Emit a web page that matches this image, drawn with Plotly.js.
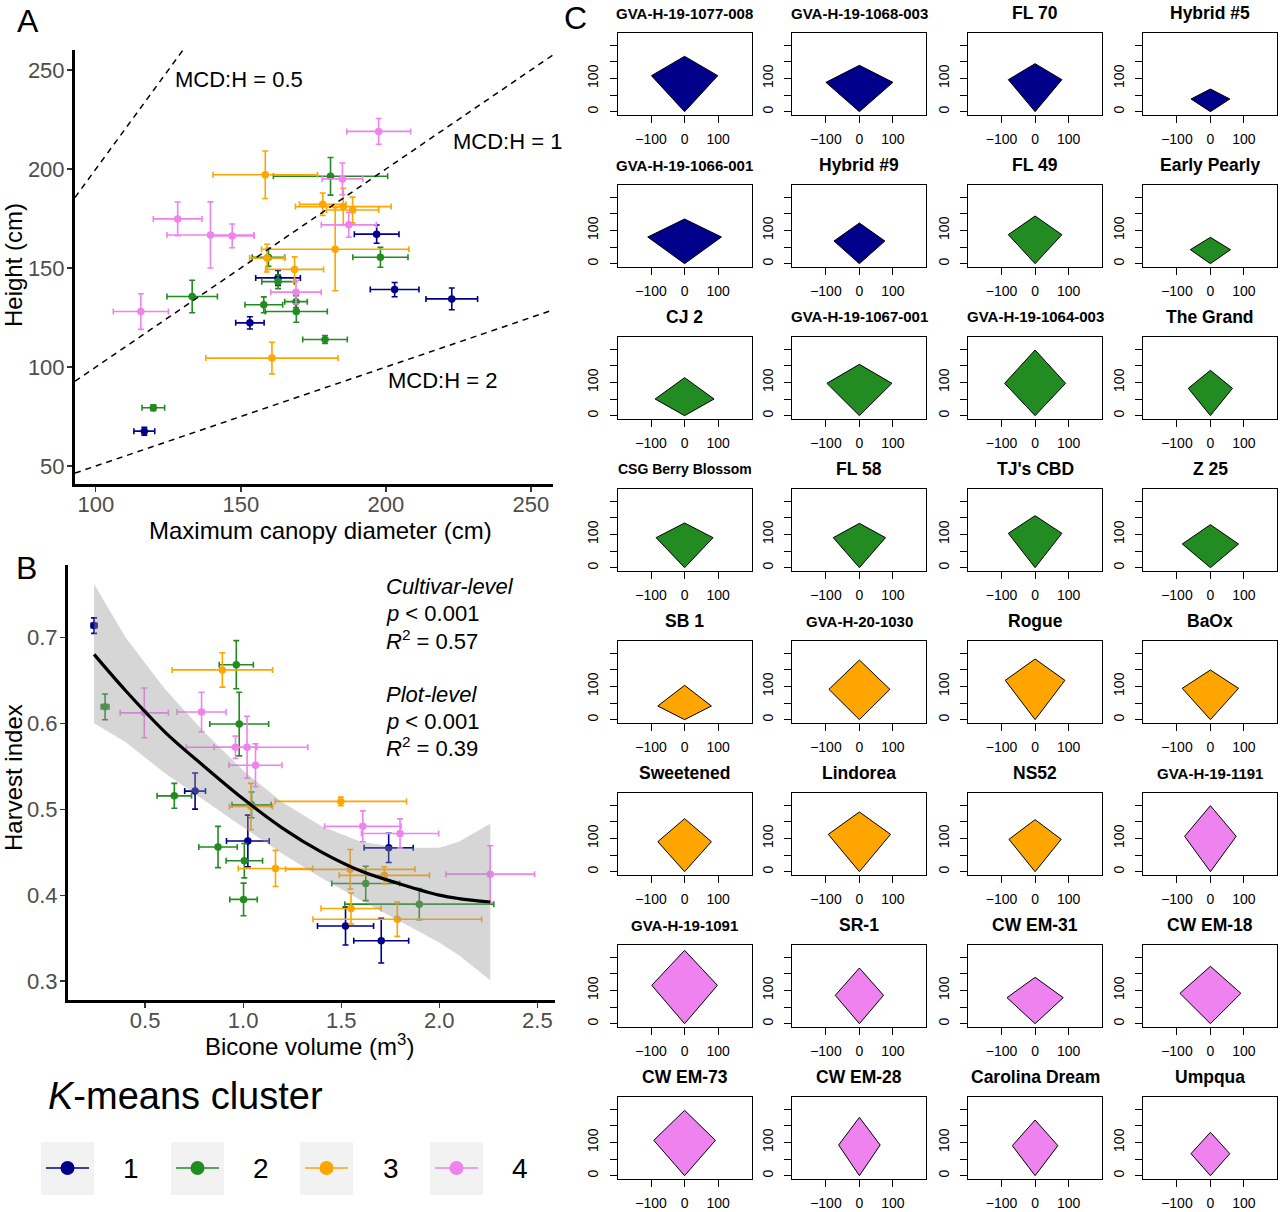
<!DOCTYPE html>
<html><head><meta charset="utf-8">
<script src="https://cdn.plot.ly/plotly-3.0.1.min.js"></script>
<style>html,body{margin:0;padding:0;background:#fff}</style>
</head><body><div id="chart" style="width:1280px;height:1212px"></div>
<script>
// ---------- shared ----------
const clusterColors = ['#00008B', '#228B22', '#FFA500', '#EE82EE'];
const clusterLabels = ['1', '2', '3', '4'];

// ---------- Panel A: canopy diameter vs height ----------
const aCluster   = [1,1,1,1,1,1, 2,2,2,2,2,2,2,2,2,2, 3,3,3,3,3,3,3,3, 4,4,4,4,4,4,4,4];
const aMCD       = [196.8,162.8,203.0,222.7,153.1,116.7, 180.9,198.1,159.5,162.8,169.0,133.2,157.9,169.1,179.0,119.8, 158.4,178.2,185.3,188.5,182.5,159.0,168.5,160.7, 197.5,185.0,128.2,139.5,147.0,187.2,169.0,115.5];
const aHeight    = [167.1,145.0,139.1,134.4,122.3,67.6, 196.3,155.4,155.4,143.1,133.0,135.6,131.4,128.0,113.9,79.4, 197.1,182.2,181.0,179.3,159.5,155.0,149.3,104.5, 219.0,195.0,174.8,166.7,166.2,171.8,137.8,128.0];
const aMCDerr    = [7.7,7.7,8.4,8.9,4.9,3.6, 19.7,9.5,5.6,5.6,3.9,8.7,6.5,10.7,7.7,3.9, 18.0,8.0,16.5,9.0,25.4,6.0,10.0,22.8, 11.0,7.0,8.4,15.0,7.6,9.5,8.7,9.5];
const aHeightErr = [4.6,3.8,3.6,5.5,3.1,2.0, 9.5,5.0,4.6,3.5,3.0,8.2,4.0,5.4,2.0,1.5, 12.0,5.7,9.3,6.5,21.0,7.0,6.3,8.0, 6.5,8.0,8.5,16.7,6.0,6.3,6.0,9.0];
const ratioValues = [0.5, 1, 2];
const ratioLabels = ['MCD:H = 0.5', 'MCD:H = 1', 'MCD:H = 2'];
const ratioLabelX = [126.6, 222.5, 200.0];
const ratioLabelY = [245.0, 214.1, 93.4];
const aXRange = [92.8, 257.6];
const aYRange = [40.9, 260.1];

// ---------- Panel B: bicone volume vs harvest index ----------
const bCluster  = [1,1,1,1,1,1, 2,2,2,2,2,2,2,2,2,2, 3,3,3,3,3,3,3,3, 4,4,4,4,4,4,4,4];
const bVolume   = [0.24,0.755,1.742,1.024,1.522,1.704, 0.296,0.965,0.98,0.649,1.043,0.872,1.006,1.625,1.002,1.898, 0.894,1.498,1.04,1.165,1.546,1.72,1.55,1.786, 0.496,0.788,0.961,1.02,1.063,1.61,1.80,2.26];
const bHI       = [0.7135,0.521,0.455,0.463,0.364,0.347, 0.619,0.668,0.599,0.5155,0.505,0.456,0.44,0.4136,0.395,0.3895, 0.662,0.509,0.503,0.431,0.43,0.423,0.3845,0.372, 0.612,0.613,0.572,0.572,0.551,0.48,0.4717,0.4244];
const bVolErr   = [0.015,0.053,0.125,0.109,0.143,0.14, 0.02,0.087,0.15,0.088,0.10,0.098,0.093,0.173,0.07,0.38, 0.256,0.335,0.11,0.19,0.33,0.23,0.153,0.43, 0.123,0.125,0.109,0.31,0.135,0.195,0.197,0.226];
const bHIErr    = [0.009,0.021,0.017,0.03,0.022,0.026, 0.015,0.028,0.037,0.0145,0.015,0.024,0.02,0.02,0.019,0.018, 0.02,0.005,0.027,0.021,0.023,0.01,0.018,0.02, 0.029,0.023,0.013,0.036,0.025,0.018,0.017,0.033];
const fitX      = [0.24, 0.4, 0.6, 0.8, 1.0, 1.2, 1.4, 1.6, 1.8, 2.0, 2.1, 2.26];
const fitY      = [0.680, 0.638, 0.590, 0.550, 0.512, 0.478, 0.450, 0.428, 0.413, 0.400, 0.396, 0.392];
const fitUpper  = [0.762, 0.700, 0.640, 0.590, 0.545, 0.508, 0.480, 0.462, 0.455, 0.455, 0.462, 0.483];
const fitLower  = [0.600, 0.578, 0.542, 0.510, 0.479, 0.448, 0.420, 0.394, 0.370, 0.345, 0.330, 0.301];
const bStatsLines = ['<i>Cultivar-level</i>', '<i>p</i> &lt; 0.001', '<i>R</i><sup>2</sup> = 0.57',
                     '<i>Plot-level</i>', '<i>p</i> &lt; 0.001', '<i>R</i><sup>2</sup> = 0.39'];

// ---------- Panel C: bicone profiles ----------
const cNames = ['GVA-H-19-1077-008','GVA-H-19-1068-003','FL 70','Hybrid #5',
                'GVA-H-19-1066-001','Hybrid #9','FL 49','Early Pearly',
                'CJ 2','GVA-H-19-1067-001','GVA-H-19-1064-003','The Grand',
                'CSG Berry Blossom','FL 58',"TJ's CBD",'Z 25',
                'SB 1','GVA-H-20-1030','Rogue','BaOx',
                'Sweetened','Lindorea','NS52','GVA-H-19-1191',
                'GVA-H-19-1091','SR-1','CW EM-31','CW EM-18',
                'CW EM-73','CW EM-28','Carolina Dream','Umpqua'];
const cCluster   = [1,1,1,1, 1,1,2,2, 2,2,2,2, 2,2,2,2, 3,3,3,3, 3,3,3,4, 4,4,4,4, 4,4,4,4];
const cHalfWidth = [99,100,80,58, 110,76,80,60, 88,97,91,66, 85,78,80,84, 80,91,89,84, 80,93,78,77, 98,72,84,91, 92,62,68,58];
const cWidestAt  = [108,88,96,38, 80,68,87,42, 50,97,97,82, 90,90,103,71, 41,91,118,94, 90,112,97,106, 115,85,78,91, 106,92,90,66];
const cHeight    = [166,139,144,68, 134,122,143,79, 114,154,197,136, 134,133,156,129, 103,179,182,149, 159,179,156,198, 220,167,139,172, 196,175,167,130];
const cXTicks = [-100, 0, 100];
const cYLabelTicks = [0, 100];
const cYMinorTicks = [50, 150, 200];

// ---------- layout helpers (pixel -> paper) ----------
const W = 1280, H = 1212;
const px = x => x / W;
const py = y => 1 - y / H;
const FONT = 'Liberation Sans, Arial, Helvetica, sans-serif';

const traces = [];
const annotations = [];
const shapes = [];
const layout = {
  width: W, height: H,
  margin: {l: 0, r: 0, t: 0, b: 0},
  paper_bgcolor: '#ffffff', plot_bgcolor: 'rgba(0,0,0,0)',
  showlegend: false,
  font: {family: FONT, color: '#000'},
};

function pick(arr, clusterArr, c) { return arr.filter((_, i) => clusterArr[i] === c); }
function axisTitle(text, x, y, angle) {
  annotations.push({xref: 'paper', yref: 'paper', x: px(x), y: py(y), text: text, showarrow: false,
    xanchor: 'center', yanchor: 'middle', textangle: angle, font: {size: 24, color: '#000'}});
}

// ---------- Panel A traces ----------
for (let c = 1; c <= 4; c++) {
  const col = clusterColors[c - 1];
  traces.push({
    type: 'scatter', mode: 'markers', xaxis: 'x', yaxis: 'y',
    x: pick(aMCD, aCluster, c), y: pick(aHeight, aCluster, c),
    marker: {color: col, size: 7.5},
    error_x: {type: 'data', array: pick(aMCDerr, aCluster, c), color: col, thickness: 1.6, width: 3},
    error_y: {type: 'data', array: pick(aHeightErr, aCluster, c), color: col, thickness: 1.6, width: 3},
    name: 'Cluster ' + clusterLabels[c - 1]
  });
}
ratioValues.forEach((r, i) => {
  traces.push({
    type: 'scatter', mode: 'lines', xaxis: 'x', yaxis: 'y',
    x: aXRange, y: aXRange.map(v => v / r),
    line: {color: '#000', width: 1.5, dash: '6px,5px'}, hoverinfo: 'skip', cliponaxis: true
  });
  annotations.push({xref: 'x', yref: 'y', x: ratioLabelX[i], y: ratioLabelY[i], text: ratioLabels[i],
    showarrow: false, xanchor: 'left', yanchor: 'middle', font: {size: 22, color: '#000'}});
});

const axisCommon = {
  showgrid: false, zeroline: false, showline: true, linecolor: '#000', linewidth: 3,
  ticks: 'outside', ticklen: 5, tickwidth: 1.2, tickcolor: '#333',
  tickfont: {size: 22, color: '#4D4D4D'}
};
layout.xaxis = Object.assign({}, axisCommon, {
  domain: [px(75), px(553)], anchor: 'y', range: aXRange,
  tickvals: [100, 150, 200, 250], ticklabelstandoff: -6
});
layout.yaxis = Object.assign({}, axisCommon, {
  domain: [py(484), py(50)], anchor: 'x', range: aYRange,
  tickvals: [50, 100, 150, 200, 250], ticklabelstandoff: -2
});
axisTitle('Maximum canopy diameter (cm)', 320, 531, 0);
axisTitle('Height (cm)', 13, 265, -90);

// ---------- Panel B traces ----------
for (let c = 1; c <= 4; c++) {
  const col = clusterColors[c - 1];
  traces.push({
    type: 'scatter', mode: 'markers', xaxis: 'x2', yaxis: 'y2',
    x: pick(bVolume, bCluster, c), y: pick(bHI, bCluster, c),
    marker: {color: col, size: 7.5},
    error_x: {type: 'data', array: pick(bVolErr, bCluster, c), color: col, thickness: 1.6, width: 3},
    error_y: {type: 'data', array: pick(bHIErr, bCluster, c), color: col, thickness: 1.6, width: 3},
    name: 'Cluster ' + clusterLabels[c - 1]
  });
}
traces.push({
  type: 'scatter', mode: 'lines', xaxis: 'x2', yaxis: 'y2',
  x: fitX.concat(fitX.slice().reverse()),
  y: fitUpper.concat(fitLower.slice().reverse()),
  fill: 'toself', fillcolor: 'rgba(153,153,153,0.4)', line: {width: 0}, hoverinfo: 'skip'
});
traces.push({
  type: 'scatter', mode: 'lines', xaxis: 'x2', yaxis: 'y2',
  x: fitX, y: fitY, line: {color: '#000', width: 3.2, shape: 'spline'}, hoverinfo: 'skip'
});
layout.xaxis2 = Object.assign({}, axisCommon, {
  domain: [px(68), px(555)], anchor: 'y2', range: [0.107, 2.59],
  tickvals: [0.5, 1.0, 1.5, 2.0, 2.5], ticktext: ['0.5', '1.0', '1.5', '2.0', '2.5'], ticklabelstandoff: -6
});
layout.yaxis2 = Object.assign({}, axisCommon, {
  domain: [py(1000), py(565)], anchor: 'x2', range: [0.278, 0.784],
  tickvals: [0.3, 0.4, 0.5, 0.6, 0.7], ticktext: ['0.3', '0.4', '0.5', '0.6', '0.7'], ticklabelstandoff: -2
});
axisTitle('Bicone volume (m<sup>3</sup>)', 309, 1045, 0);
axisTitle('Harvest index', 13, 778, -90);
const statY = [586, 613, 640, 694, 721, 747];
bStatsLines.forEach((t, i) => {
  annotations.push({xref: 'paper', yref: 'paper', x: px(384), y: py(statY[i]), text: t,
    showarrow: false, xanchor: 'left', yanchor: 'middle', font: {size: 22, color: '#000'}});
});

// ---------- Panel labels ----------
[['A', 28, 21], ['B', 26, 568], ['C', 575, 18]].forEach(([t, x, y]) => {
  annotations.push({xref: 'paper', yref: 'paper', x: px(x), y: py(y), text: t, showarrow: false,
    xanchor: 'center', yanchor: 'middle', font: {size: 32, color: '#000'}});
});

// ---------- Legend (K-means cluster) ----------
annotations.push({xref: 'paper', yref: 'paper', x: px(46), y: py(1096), text: '<i>K</i>-means cluster',
  showarrow: false, xanchor: 'left', yanchor: 'middle', font: {size: 38, color: '#000'}});
const keyLeft = [41, 171, 300, 430];
const keyLabelX = [131, 261, 391, 520];
keyLeft.forEach((L, i) => {
  const col = clusterColors[i];
  shapes.push({type: 'rect', xref: 'paper', yref: 'paper', x0: px(L), x1: px(L + 53), y0: py(1195), y1: py(1142),
    fillcolor: '#F2F2F2', line: {width: 0}, layer: 'below'});
  shapes.push({type: 'line', xref: 'paper', yref: 'paper', x0: px(L + 5), x1: px(L + 48), y0: py(1168), y1: py(1168),
    line: {color: col, width: 1.6}});
  shapes.push({type: 'circle', xref: 'paper', yref: 'paper', x0: px(L + 19.5), x1: px(L + 33.5), y0: py(1175), y1: py(1161),
    fillcolor: col, line: {color: col, width: 0}});
  annotations.push({xref: 'paper', yref: 'paper', x: px(keyLabelX[i]), y: py(1168), text: clusterLabels[i],
    showarrow: false, xanchor: 'center', yanchor: 'middle', font: {size: 28, color: '#000'}});
});

// ---------- Panel C small multiples ----------
const colLeft = [617.6, 792.4, 968.1, 1143.4];
const boxW = 134, rowPitch = 152;
cNames.forEach((name, i) => {
  const r = Math.floor(i / 4), c = i % 4;
  const n = i + 3;
  const xa = 'x' + n, ya = 'y' + n;
  const left = colLeft[c], top = 33 + rowPitch * r, bottom = 115 + rowPitch * r;
  const hw = cHalfWidth[i], mid = cWidestAt[i], h = cHeight[i];
  traces.push({
    type: 'scatter', mode: 'lines', xaxis: xa, yaxis: ya,
    x: [0, -hw, 0, hw, 0], y: [0, mid, h, mid, 0],
    fill: 'toself', fillcolor: clusterColors[cCluster[i] - 1],
    line: {color: '#000', width: 1}, name: name, hoverinfo: 'skip'
  });
  layout['xaxis' + n] = {
    domain: [px(left), px(left + boxW)], anchor: ya, range: [-200, 200],
    tickvals: cXTicks, ticks: 'outside', ticklen: 7, tickwidth: 1, tickcolor: '#000',
    showline: true, mirror: true, linecolor: '#000', linewidth: 1,
    showgrid: false, zeroline: false, ticklabelstandoff: 4,
    tickfont: {size: 14, color: '#000'}
  };
  layout['yaxis' + n] = {
    domain: [py(bottom), py(top)], anchor: xa, range: [-10, 236],
    tickvals: cYLabelTicks, tickangle: -90,
    ticks: 'outside', ticklen: 7, tickwidth: 1, tickcolor: '#000',
    minor: {tickmode: 'array', tickvals: cYMinorTicks, ticks: 'outside', ticklen: 7, tickwidth: 1, tickcolor: '#000', showgrid: false},
    showline: true, mirror: true, linecolor: '#000', linewidth: 1,
    showgrid: false, zeroline: false, ticklabelstandoff: 6,
    tickfont: {size: 14, color: '#000'}
  };
  const long = name.length > 12;
  annotations.push({xref: 'paper', yref: 'paper', x: px(left + boxW / 2), y: py(13 + rowPitch * r),
    text: '<b>' + name + '</b>', showarrow: false, xanchor: 'center', yanchor: 'middle',
    font: {size: name === 'CSG Berry Blossom' ? 14 : (long && name !== 'Carolina Dream' ? 15 : 17.5), color: '#000'}});
});

layout.annotations = annotations;
layout.shapes = shapes;
Plotly.newPlot('chart', traces, layout, {staticPlot: true, displayModeBar: false});
</script>
</body></html>
